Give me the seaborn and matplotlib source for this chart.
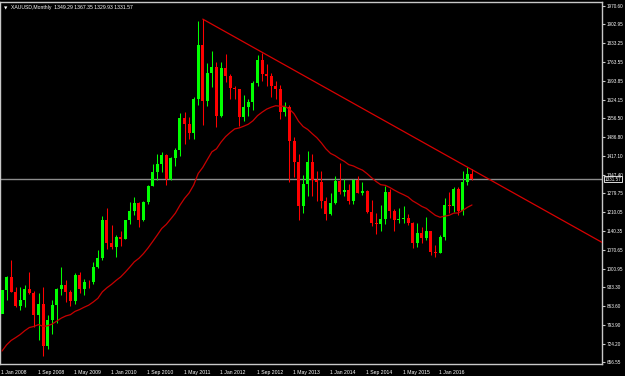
import numpy as np
import pandas as pd
import matplotlib
matplotlib.use("Agg")
import matplotlib.pyplot as plt
import matplotlib.transforms as mtransforms
import seaborn as sns

# ---------------- data ----------------
opens = [834, 923, 971, 917, 865, 885, 929, 913, 833, 871, 718, 814,
         869, 928, 942, 916, 884, 977, 926, 954, 952, 1008, 1040, 1182,
         1096, 1081, 1118, 1113, 1180, 1213, 1244, 1181, 1248, 1307, 1357, 1386,
         1421, 1333, 1409, 1439, 1556, 1536, 1500, 1628, 1825, 1620, 1722, 1746,
         1565, 1740, 1710, 1669, 1664, 1561, 1598, 1614, 1685, 1772, 1719, 1713,
         1675, 1663, 1579, 1597, 1472, 1393, 1234, 1313, 1396, 1327, 1323, 1253,
         1202, 1244, 1326, 1284, 1292, 1250, 1327, 1282, 1287, 1210, 1171, 1167,
         1184, 1283, 1213, 1183, 1184, 1190, 1172, 1095, 1135, 1115, 1142, 1065,
         1061, 1118, 1238, 1233, 1294, 1215, 1322, 1349.29]
highs = [924, 975, 1033, 935, 933, 943, 988, 918, 912, 936, 832, 885,
         931, 1007, 962, 924, 985, 990, 964, 962, 1025, 1070, 1195, 1227,
         1162, 1127, 1140, 1181, 1249, 1266, 1246, 1253, 1310, 1388, 1425, 1431,
         1425, 1412, 1447, 1576, 1578, 1560, 1633, 1913, 1921, 1760, 1803, 1764,
         1764, 1791, 1720, 1676, 1665, 1641, 1627, 1693, 1790, 1796, 1755, 1723,
         1694, 1679, 1617, 1605, 1488, 1423, 1348, 1434, 1424, 1362, 1362, 1267,
         1280, 1345, 1392, 1331, 1315, 1332, 1345, 1323, 1290, 1255, 1208, 1238,
         1307, 1294, 1220, 1224, 1232, 1205, 1175, 1170, 1157, 1191, 1142, 1088,
         1125, 1263, 1283, 1304, 1304, 1362, 1375, 1367.35]
lows = [846, 887, 915, 861, 849, 860, 908, 786, 740, 681, 705, 762,
        801, 905, 880, 865, 871, 912, 905, 931, 944, 1003, 1033, 1075,
        1075, 1045, 1087, 1111, 1165, 1201, 1155, 1178, 1241, 1306, 1330, 1359,
        1309, 1330, 1381, 1417, 1462, 1478, 1480, 1603, 1532, 1600, 1670, 1523,
        1562, 1688, 1627, 1627, 1527, 1546, 1564, 1588, 1676, 1693, 1673, 1635,
        1626, 1555, 1563, 1321, 1338, 1180, 1207, 1270, 1271, 1251, 1227, 1182,
        1200, 1239, 1277, 1268, 1240, 1240, 1281, 1272, 1206, 1160, 1131, 1142,
        1167, 1190, 1142, 1170, 1170, 1162, 1077, 1080, 1098, 1106, 1053, 1046,
        1061, 1107, 1208, 1211, 1199, 1200, 1310, 1329.93]
closes = [923, 971, 917, 865, 885, 929, 913, 833, 871, 718, 814, 869,
          928, 942, 916, 884, 977, 926, 954, 952, 1008, 1040, 1182, 1096,
          1081, 1118, 1113, 1180, 1213, 1244, 1181, 1248, 1307, 1357, 1386, 1421,
          1333, 1409, 1439, 1556, 1536, 1500, 1628, 1825, 1620, 1722, 1746, 1565,
          1740, 1710, 1669, 1664, 1561, 1598, 1614, 1685, 1772, 1719, 1713, 1675,
          1663, 1579, 1597, 1472, 1393, 1234, 1313, 1396, 1327, 1323, 1253, 1202,
          1244, 1326, 1284, 1292, 1250, 1327, 1282, 1287, 1210, 1171, 1167, 1184,
          1283, 1213, 1183, 1184, 1190, 1172, 1095, 1135, 1115, 1142, 1065, 1061,
          1118, 1238, 1233, 1294, 1215, 1322, 1351, 1331.57]
# closes of 2006-2007, used only to warm up the moving average
warmup_closes = [569, 556, 582, 654, 643, 613, 632, 623, 599, 604, 646, 632,
                 650, 665, 663, 678, 658, 650, 665, 672, 743, 789, 783, 834]
ma_period = 12
y_ticks = [1970.60, 1902.95, 1833.25, 1763.55, 1693.85, 1624.15, 1556.50,
           1486.80, 1417.10, 1347.40, 1279.75, 1210.05, 1140.35, 1070.65,
           1000.95, 933.30, 863.60, 793.90, 724.20, 656.55]
x_tick_labels = ["1 Jan 2008", "1 Sep 2008", "1 May 2009", "1 Jan 2010",
                 "1 Sep 2010", "1 May 2011", "1 Jan 2012", "1 Sep 2012",
                 "1 May 2013", "1 Jan 2014", "1 Sep 2014", "1 May 2015",
                 "1 Jan 2016"]
x_tick_months = [0, 8, 16, 24, 32, 40, 48, 56, 64, 72, 80, 88, 96]
trend_anchor_idx = [44, 102]
trend_anchor_price = [1921, 1376]
last_price = 1331.57
title = "XAUUSD,Monthly  1349.29 1367.35 1329.93 1331.57"

# ---------------- frame ----------------
n = len(closes)
df = pd.DataFrame({"idx": np.arange(n), "open": opens, "high": highs,
                   "low": lows, "close": closes})
allc = pd.Series(warmup_closes + closes, dtype=float)
df["ma"] = allc.ewm(alpha=1 / ma_period, adjust=False).mean().values[-n:]

x_min, x_max = -0.44, 131.5
y_min, y_max = 651, 1984

slope = (trend_anchor_price[1] - trend_anchor_price[0]) / (trend_anchor_idx[1] - trend_anchor_idx[0])
trend = pd.DataFrame({"x": [trend_anchor_idx[0], x_max + 1]})
trend["y"] = trend_anchor_price[0] + slope * (trend["x"] - trend_anchor_idx[0])

# ---------------- style ----------------
sns.set_style("dark")
plt.rcParams["font.family"] = ["Liberation Sans", "DejaVu Sans"]
frame_col = "#c8c8c8"
fs = 3.7
fs_y = 3.35

fig = plt.figure(figsize=(6.25, 3.76), dpi=100, facecolor="black")
ax = fig.add_axes([0, 12 / 376, 602 / 625, 362 / 376])
ax.set_facecolor("black")

# candles
up = df["close"] >= df["open"]
body_lo = np.minimum(df["open"], df["close"])
body_h = np.maximum(np.abs(df["close"] - df["open"]), 2.5)
colors = np.where(up, "#00ff00", "#ff0000")
ax.vlines(df["idx"], df["low"], df["high"], colors=colors, linewidth=0.75, zorder=2)
ax.bar(df["idx"], body_h, bottom=body_lo, width=0.66, color=colors,
       linewidth=0, zorder=3)

# moving average and trend line
sns.lineplot(data=df, x="idx", y="ma", ax=ax, color="#c80000", linewidth=0.9, zorder=4)
sns.lineplot(data=trend, x="x", y="y", ax=ax, color="#d80000", linewidth=0.9, zorder=4)

# last price line
ax.axhline(last_price, color="#8c8c8c", linewidth=1.0, zorder=1)

ax.set_xlim(x_min, x_max)
ax.set_ylim(y_min, y_max)
ax.set_xlabel("")
ax.set_ylabel("")
ax.grid(False)

# axes ticks
ax.yaxis.tick_right()
ax.set_yticks(y_ticks)
ax.set_yticklabels([f"{v:.2f}" for v in y_ticks])
ax.set_xticks(x_tick_months)
ax.set_xticklabels(x_tick_labels, ha="left")
ax.tick_params(axis="x", colors=frame_col, labelcolor="white", labelsize=fs,
               length=3, width=0.8, direction="out", pad=1.5)
ax.tick_params(axis="y", colors=frame_col, labelcolor="white", labelsize=fs_y,
               length=2.5, width=0.8, direction="out", pad=1.0,
               left=False, right=True)
offset = mtransforms.ScaledTranslation(-1 / 100, 0, fig.dpi_scale_trans)
for lbl in ax.get_xticklabels():
    lbl.set_transform(lbl.get_transform() + offset)

for s in ax.spines.values():
    s.set_visible(True)
    s.set_color(frame_col)
    s.set_linewidth(1.0)

# title
ax.text(4 / 602, 1 - 6 / 362, "\u25bc", transform=ax.transAxes, color="white",
        fontsize=3.2, va="center", ha="left", family=["DejaVu Sans"])
ax.text(11 / 602, 1 - 6 / 362, title, transform=ax.transAxes, color="white",
        fontsize=fs, va="center", ha="left")

# last price label on the axis
blend = mtransforms.blended_transform_factory(ax.transAxes, ax.transData)
ax.text(1.0 + 3 / 602, last_price, f"{last_price:.2f}", transform=blend,
        color="white", fontsize=fs_y, va="center", ha="left", zorder=6,
        bbox=dict(boxstyle="square,pad=0.15", facecolor="black",
                  edgecolor="white", linewidth=0.6), clip_on=False)

plt.savefig("out.png", dpi=100, facecolor="black")
